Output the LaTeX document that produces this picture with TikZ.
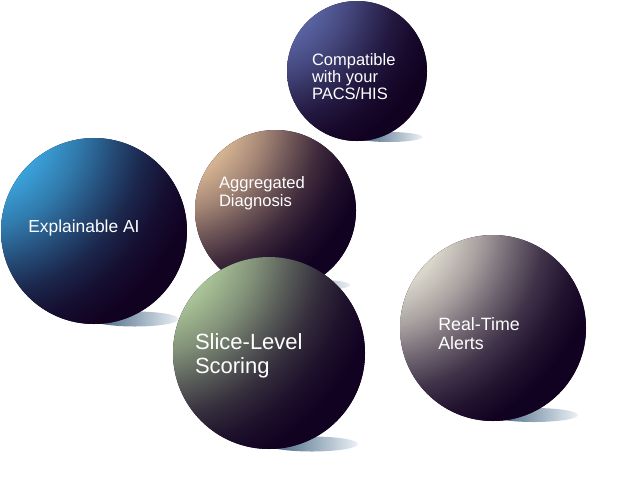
\documentclass[tikz,border=0pt]{standalone}
\usepackage{fontspec}
\setmainfont{Liberation Sans}
\usetikzlibrary{shapes.geometric}
\definecolor{dk}{RGB}{18,2,34}
\definecolor{hlA}{RGB}{88,98,160}
\definecolor{hlB}{RGB}{58,160,216}
\definecolor{hlC}{RGB}{212,178,145}
\definecolor{hlD}{RGB}{168,194,150}
\definecolor{hlE}{RGB}{218,214,202}
\definecolor{shL}{RGB}{55,90,120}
\definecolor{shR}{RGB}{236,241,246}
\newcommand\mysphshade[2]{\pgfdeclareradialshading{#1}{\pgfpointorigin}{color(0bp)=(#2); color(6.4bp)=(#2); color(9.7bp)=(#2!75!dk); color(12.8bp)=(#2!46!dk); color(15.5bp)=(#2!23!dk); color(18.2bp)=(#2!8!dk); color(20.8bp)=(dk); color(50bp)=(dk)}}
\mysphshade{sphA}{hlA}
\mysphshade{sphB}{hlB}
\mysphshade{sphC}{hlC}
\mysphshade{sphD}{hlD}
\mysphshade{sphE}{hlE}
\tikzset{
  sphere/.style 2 args={circle, inner sep=0pt, outer sep=0pt, minimum size=#2*2pt, fill=dk,
    path picture={\shade[shading=#1] ([shift={(-1.3*#2,-1.15*#2)}]path picture bounding box.center) circle[radius=#2*3pt];}},
  shadowst/.style={ellipse, inner sep=0pt, outer sep=0pt, left color=shL, right color=shR},
  lbl/.style={anchor=north west, inner sep=0pt, outer sep=0pt, text=white, align=left}
}
\begin{document}
\begin{tikzpicture}[x=1pt, y=-1pt]
\useasboundingbox (0,0) rectangle (620,491);
% shadows
\node[shadowst, minimum width=67pt, minimum height=10pt] (sh1) at (389,137) {};
\node[shadowst, minimum width=88pt, minimum height=15pt] (sh2) at (135,319) {};
\node[shadowst, minimum width=77pt, minimum height=11pt] (sh3) at (312,285) {};
\node[shadowst, minimum width=92pt, minimum height=15pt] (sh4) at (312,444) {};
\node[shadowst, minimum width=88pt, minimum height=14pt] (sh5) at (534,415) {};
% spheres
\node[sphere={sphA}{70}] (s1) at (357,71) {};
\node[sphere={sphB}{93}] (s2) at (94,231) {};
\node[sphere={sphC}{80.5}] (s3) at (275.5,210.5) {};
\node[sphere={sphD}{96}] (s4) at (269,353) {};
\node[sphere={sphE}{93}] (s5) at (493,328) {};
% labels
\node[lbl, font=\fontsize{16.5}{17}\selectfont] (t1) at (312,54) {Compatible\\with your\\PACS/HIS};
\node[lbl, font=\fontsize{17.4}{19}\selectfont] (t2) at (28.3,220.3) {Explainable AI};
\node[lbl, font=\fontsize{16.6}{18}\selectfont] (t3) at (219,176) {Aggregated\\Diagnosis};
\node[lbl, font=\fontsize{22}{24.3}\selectfont] (t4) at (195,333.3) {Slice-Level\\Scoring};
\node[lbl, font=\fontsize{17.8}{19.5}\selectfont] (t5) at (438.3,317.4) {Real-Time\\Alerts};
\end{tikzpicture}
\end{document}
